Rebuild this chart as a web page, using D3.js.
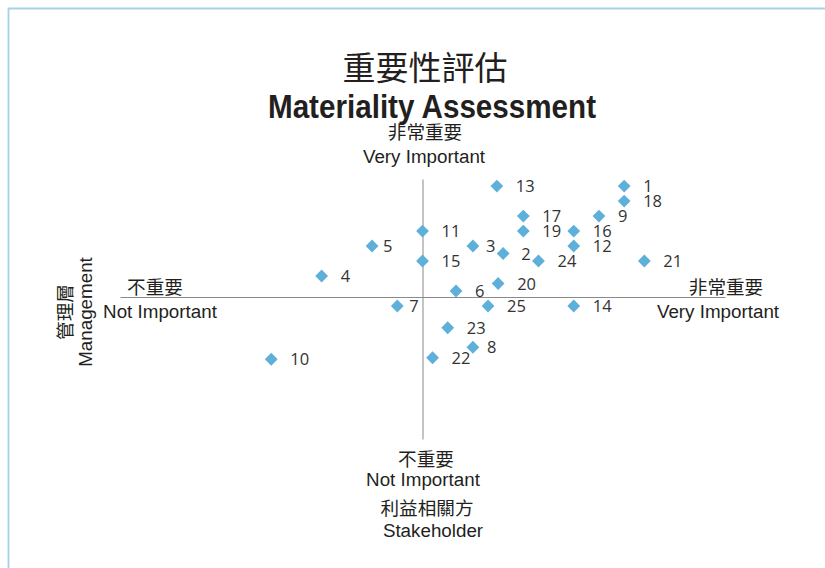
<!DOCTYPE html>
<html>
<head>
<meta charset="utf-8">
<script src="https://cdn.jsdelivr.net/npm/d3@7"></script>
<style>
  body { margin: 0; background: #fff; }
  svg { display: block; }
  .cjk { font-family: "Noto Sans CJK TC", "Noto Sans CJK SC", sans-serif; fill: #231f20; }
  .lat { font-family: "Liberation Sans", Arial, sans-serif; fill: #231f20; }
  .num { font-family: "Open Sans", "Noto Sans", sans-serif; font-size: 16.5px; fill: #333; }
</style>
</head>
<body>
<div id="chart"></div>
<script>
// Width and height
var width  = 825;
var height = 568;

// issue numbers and their scores (x = stakeholder, y = management)
var issueIds = [1, 2, 3, 4, 5, 6, 7, 8, 9, 10, 11, 12, 13,
                14, 15, 16, 17, 18, 19, 20, 21, 22, 23, 24, 25];
var stakeholderScore = [8, 3.2, 2, -4, -2, 1.33, -1, 2, 7, -6, 0, 6, 2.95,
                        6, 0, 6, 4, 8, 4, 3, 8.8, 0.4, 1, 4.6, 2.6];
var managementScore  = [7.4, 2.9, 3.4, 1.4, 3.4, 0.4, -0.6, -3.35, 5.4, -4.15, 4.4, 3.4, 7.4,
                        -0.6, 2.4, 4.4, 5.4, 6.4, 4.4, 0.9, 2.4, -4.05, -2.05, 2.4, -0.6];

// label text sits a bit closer for a few points
var labelShift = { 2: -1, 3: -6, 5: -8, 7: -7, 8: -5 };

var points = issueIds.map(function(id, i){
    return { id: id, sx: stakeholderScore[i], my: managementScore[i] };
});

var svg = d3.select("#chart")
    .append("svg")
    .attr("width", width)
    .attr("height", height);

// light blue frame
svg.append("path")
    .attr("d", "M8.5," + height + "V8.5H" + width)
    .style("fill", "none")
    .style("stroke", "#a3d3e9")
    .style("stroke-width", "1.8px");

// scales
var x = d3.scaleLinear()
    .domain([-12, 12])
    .range([120, 725]);
var y = d3.scaleLinear()
    .domain([-9.47, 7.87])
    .range([439, 179]);

// cross axes without ticks
var xAxis = svg.append("g")
    .attr("transform", "translate(0," + y(0) + ")")
    .call(d3.axisBottom(x).tickValues([]).tickSizeOuter(0));
var yAxis = svg.append("g")
    .attr("transform", "translate(" + x(0) + ",0)")
    .call(d3.axisLeft(y).tickValues([]).tickSizeOuter(0));
svg.selectAll(".domain")
    .style("stroke", "#8a8a8a")
    .style("stroke-width", "1px");

// titles
svg.append("text")
    .attr("class", "cjk")
    .attr("x", 425)
    .attr("y", 80)
    .attr("text-anchor", "middle")
    .style("font-size", "33px")
    .text("重要性評估");
svg.append("text")
    .attr("x", 432)
    .attr("y", 118)
    .attr("text-anchor", "middle")
    .attr("textLength", 328)
    .attr("lengthAdjust", "spacingAndGlyphs")
    .style("font-family", "'Liberation Sans Narrow', 'Liberation Sans', sans-serif")
    .style("font-weight", "bold")
    .style("font-size", "34px")
    .style("fill", "#231f20")
    .text("Materiality Assessment");

// axis end labels
var endLabels = [
    { cjk: "非常重要", en: "Very Important", cx: 425, ex: 424, cy: 139, ey: 163 },
    { cjk: "不重要",   en: "Not Important",  cx: 155, ex: 160, cy: 294, ey: 318 },
    { cjk: "非常重要", en: "Very Important", cx: 726, ex: 718, cy: 294, ey: 318 },
    { cjk: "不重要",   en: "Not Important",  cx: 426, ex: 423, cy: 466, ey: 486 },
    { cjk: "利益相關方", en: "Stakeholder",  cx: 427, ex: 433, cy: 515, ey: 537 }
];
endLabels.forEach(function(l){
    svg.append("text")
        .attr("class", "cjk")
        .attr("x", l.cx)
        .attr("y", l.cy)
        .attr("text-anchor", "middle")
        .style("font-size", "18.6px")
        .text(l.cjk);
    svg.append("text")
        .attr("class", "lat")
        .attr("x", l.ex)
        .attr("y", l.ey)
        .attr("text-anchor", "middle")
        .style("font-size", "18.8px")
        .text(l.en);
});

// vertical axis name
svg.append("text")
    .attr("class", "cjk")
    .attr("transform", "translate(72,312) rotate(-90)")
    .attr("text-anchor", "middle")
    .style("font-size", "18.6px")
    .text("管理層");
svg.append("text")
    .attr("class", "lat")
    .attr("transform", "translate(92,312) rotate(-90)")
    .attr("text-anchor", "middle")
    .style("font-size", "18.8px")
    .text("Management");

// points
var dots = svg.append("g").attr("class", "dots");
dots.selectAll("path")
    .data(points)
    .enter()
    .append("path")
    .attr("d", d3.symbol(d3.symbolSquare, 82))
    .attr("transform", function(d){
        return "translate(" + x(d.sx) + "," + y(d.my) + ") rotate(45)";
    })
    .style("fill", "#5eb0db");

dots.selectAll("text")
    .data(points)
    .enter()
    .append("text")
    .attr("class", "num")
    .attr("x", function(d){ return x(d.sx) + 19 + (labelShift[d.id] || 0); })
    .attr("y", function(d){ return y(d.my) + 6; })
    .text(function(d){ return d.id; });
</script>
</body>
</html>
